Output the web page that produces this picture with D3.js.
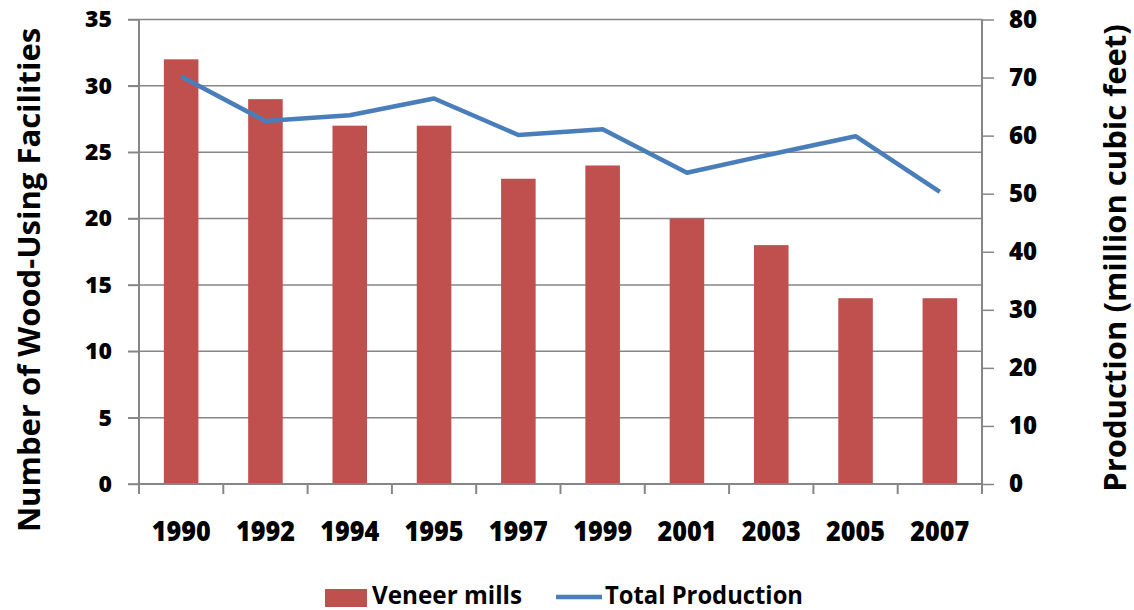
<!DOCTYPE html>
<html><head><meta charset="utf-8">
<script src="https://cdn.jsdelivr.net/npm/d3@7"></script>
<style>
body{margin:0;background:#fff;}
text{font-family:"Open Sans",sans-serif;font-weight:bold;fill:#000;}
</style></head>
<body><svg id="c" width="1134" height="610"></svg>
<script>
const years = ["1990","1992","1994","1995","1997","1999","2001","2003","2005","2007"];
const veneerMills = [32,29,27,27,23,24,20,18,14,14];
const totalProduction = [70.2,62.5,63.5,66.4,60.1,61.1,53.6,56.8,59.9,50.3];
const leftTicks = [0,5,10,15,20,25,30,35];
const rightTicks = [0,10,20,30,40,50,60,70,80];
const leftTitle = "Number of Wood-Using Facilities";
const rightTitle = "Production (million cubic feet)";
const legendLabels = ["Veneer mills","Total Production"];

const svg = d3.select("#c");
const L=139, R=982, T=19.5, B=484;
const x = d3.scaleBand().domain(years).range([L,R]).paddingInner(0.59).paddingOuter(0.295);
const xb = d3.scaleBand().domain(years).range([L,R]);
const yL = d3.scaleLinear().domain([0,35]).range([B,T]);
const yR = d3.scaleLinear().domain([0,80]).range([B,T]);
const grid="#868686";

// gridlines
svg.append("g").selectAll("line").data(leftTicks).join("line")
  .attr("x1",L-11).attr("x2",R).attr("y1",d=>yL(d)).attr("y2",d=>yL(d))
  .attr("stroke",grid).attr("stroke-width",1.5);

// bars
svg.append("g").selectAll("rect").data(years).join("rect")
  .attr("x",d=>x(d)).attr("width",x.bandwidth())
  .attr("y",(d,i)=>yL(veneerMills[i])).attr("height",(d,i)=>B-yL(veneerMills[i]))
  .attr("fill","#C0504D");

// left axis
const gl = svg.append("g").attr("transform",`translate(${L},0)`)
  .call(d3.axisLeft(yL).tickValues(leftTicks).tickSize(11).tickPadding(16));
gl.select(".domain").remove();
gl.selectAll("line").attr("stroke",grid).attr("stroke-width",1.5);
gl.selectAll("text").style("font-size","23px").style("font-weight","800");
svg.append("line").attr("x1",L).attr("x2",L).attr("y1",T).attr("y2",B+10).attr("stroke",grid).attr("stroke-width",2);

// right axis
const gr = svg.append("g").attr("transform",`translate(${R},0)`)
  .call(d3.axisRight(yR).tickValues(rightTicks).tickSize(12).tickPadding(15));
gr.select(".domain").remove();
gr.selectAll("line").attr("stroke",grid).attr("stroke-width",1.5);
gr.selectAll("text").style("font-size","24px").style("font-weight","800");
svg.append("line").attr("x1",R).attr("x2",R).attr("y1",T).attr("y2",B+10).attr("stroke",grid).attr("stroke-width",2);

// bottom axis
svg.append("line").attr("x1",L).attr("x2",R).attr("y1",B).attr("y2",B).attr("stroke",grid).attr("stroke-width",2);
svg.append("g").selectAll("line").data(years).join("line")
  .attr("x1",d=>xb(d)+xb.bandwidth()).attr("x2",d=>xb(d)+xb.bandwidth())
  .attr("y1",B).attr("y2",B+10).attr("stroke",grid).attr("stroke-width",2);
svg.append("g").selectAll("text").data(years).join("text")
  .attr("x",d=>xb(d)+xb.bandwidth()/2).attr("y",541)
  .attr("text-anchor","middle").style("font-size","29px").style("font-weight","800")
  .attr("textLength",59).attr("lengthAdjust","spacingAndGlyphs").text(d=>d);

// line
const line = d3.line().x((d,i)=>xb(years[i])+xb.bandwidth()/2).y(d=>yR(d));
svg.append("path").datum(totalProduction).attr("d",line)
  .attr("fill","none").attr("stroke","#4A7EBB").attr("stroke-width",4.5).attr("stroke-linejoin","round");

// titles
svg.append("text").attr("transform","translate(40,280) rotate(-90)")
  .attr("text-anchor","middle").style("font-size","31px").text(leftTitle);
svg.append("text").attr("transform","translate(1126,258) rotate(-90)")
  .attr("text-anchor","middle").style("font-size","31px").text(rightTitle);

// legend
svg.append("rect").attr("x",325).attr("y",589).attr("width",42).attr("height",18).attr("fill","#C0504D");
svg.append("text").attr("x",372).attr("y",604).style("font-size","25px")
  .attr("textLength",150).attr("lengthAdjust","spacingAndGlyphs").text(legendLabels[0]);
svg.append("line").attr("x1",556).attr("x2",602).attr("y1",597).attr("y2",597).attr("stroke","#4A7EBB").attr("stroke-width",4.5);
svg.append("text").attr("x",605).attr("y",604).style("font-size","25px")
  .attr("textLength",198).attr("lengthAdjust","spacingAndGlyphs").text(legendLabels[1]);
</script></body></html>
